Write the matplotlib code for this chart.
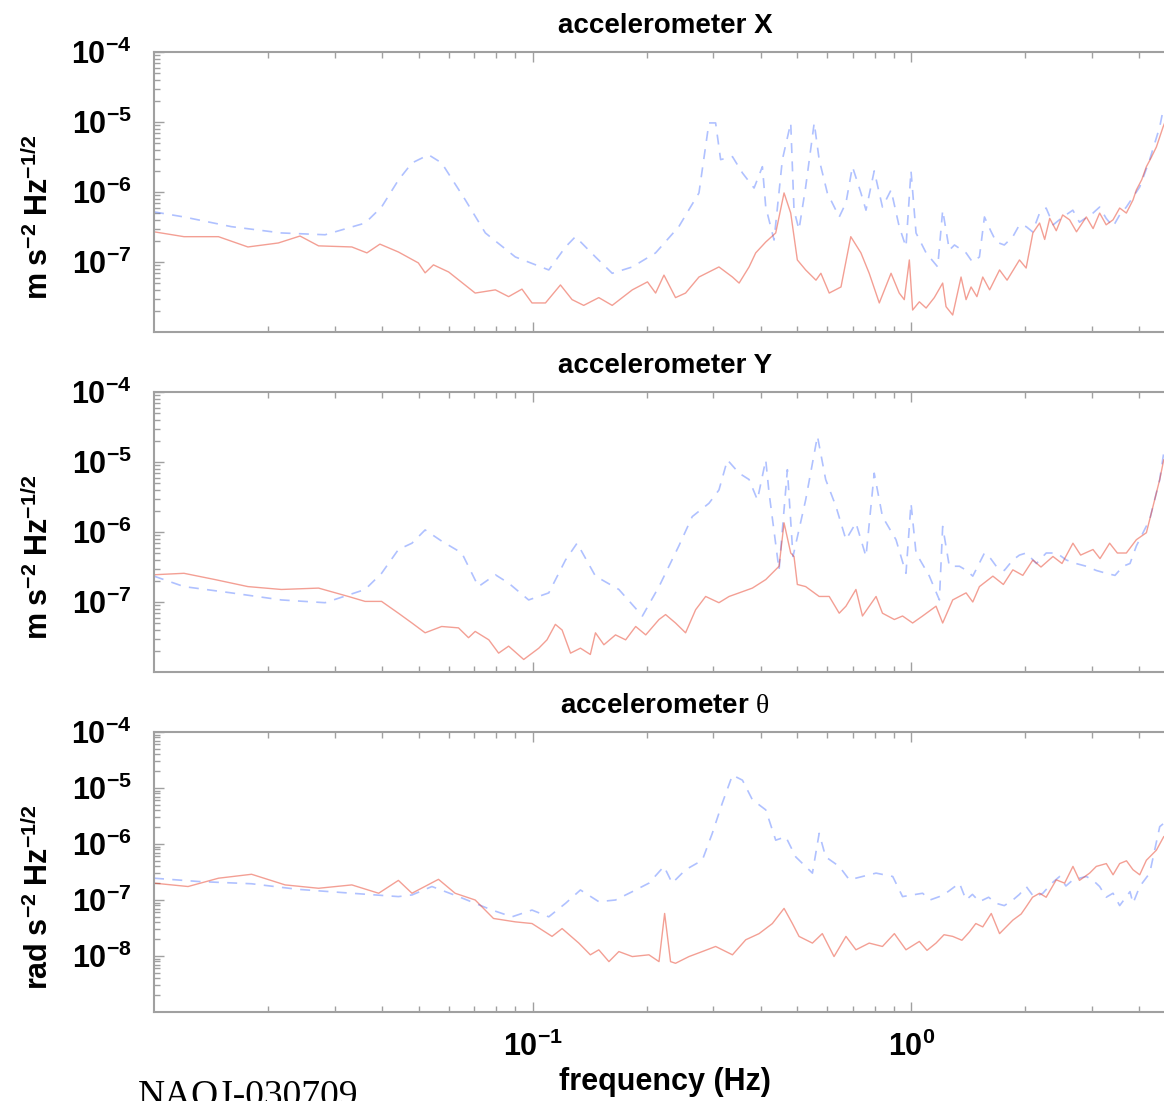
import math
import matplotlib
matplotlib.use('Agg')
import matplotlib.pyplot as plt
from matplotlib.ticker import LogLocator, NullFormatter, FixedLocator

plt.rcParams['font.family'] = ['Liberation Sans', 'DejaVu Sans']
plt.rcParams['mathtext.fontset'] = 'custom'
plt.rcParams['mathtext.rm'] = 'Liberation Serif'
plt.rcParams['mathtext.bf'] = 'Liberation Sans:bold'
plt.rcParams['mathtext.it'] = 'Liberation Serif:italic'
plt.rcParams['mathtext.sf'] = 'Liberation Sans'

# ---------------- data ----------------
# accelerometer X
x_red_f = [0.0100, 0.0120, 0.0148, 0.0177, 0.0213, 0.0243, 0.0272, 0.0333, 0.0365, 0.0395,
           0.0442, 0.0499, 0.0520, 0.0547, 0.0600, 0.0705, 0.0797, 0.0864, 0.0937, 0.0996,
           0.1081, 0.1184, 0.1271, 0.1364, 0.1495, 0.1622, 0.1833, 0.2010, 0.2112, 0.2222,
           0.2384, 0.2534, 0.2749, 0.3104, 0.3370, 0.3509, 0.3728, 0.3882, 0.4126, 0.4384,
           0.4612, 0.4803, 0.500, 0.526, 0.560, 0.577, 0.607, 0.652, 0.692, 0.736,
           0.774, 0.823, 0.884, 0.929, 0.958, 0.988, 1.008, 1.05, 1.094, 1.15,
           1.21, 1.235, 1.286, 1.353, 1.395, 1.438, 1.49, 1.544, 1.61, 1.71,
           1.79, 1.93, 2.01, 2.094, 2.181, 2.25, 2.32, 2.414, 2.51, 2.618,
           2.73, 2.898, 3.02, 3.143, 3.27, 3.409, 3.55, 3.697, 3.85, 3.929,
           4.06, 4.176, 4.30, 4.438, 4.622, 4.82]
x_red_v = [2.7e-7, 2.3e-7, 2.3e-7, 1.64e-7, 1.87e-7, 2.35e-7, 1.7e-7, 1.64e-7, 1.35e-7, 1.8e-7,
           1.39e-7, 9.7e-8, 7.0e-8, 9.1e-8, 7.2e-8, 3.6e-8, 4.0e-8, 3.2e-8, 4.1e-8, 2.6e-8,
           2.6e-8, 4.7e-8, 2.9e-8, 2.4e-8, 3.1e-8, 2.4e-8, 4.0e-8, 5.2e-8, 3.6e-8, 6.5e-8,
           3.1e-8, 3.6e-8, 6.1e-8, 8.5e-8, 6.1e-8, 5.0e-8, 8.5e-8, 1.35e-7, 1.93e-7, 2.6e-7,
           9.7e-7, 5.0e-7, 1.07e-7, 7.7e-8, 5.5e-8, 6.9e-8, 3.6e-8, 4.4e-8, 2.3e-7, 1.35e-7,
           6.9e-8, 2.6e-8, 6.9e-8, 3.6e-8, 2.9e-8, 1.07e-7, 2.06e-8, 2.7e-8, 2.2e-8, 3.1e-8,
           5.0e-8, 2.3e-8, 1.75e-8, 6.1e-8, 2.9e-8, 4.4e-8, 3.2e-8, 6.1e-8, 4.0e-8, 7.7e-8,
           5.5e-8, 1.07e-7, 8.2e-8, 2.6e-7, 3.6e-7, 2.1e-7, 4.2e-7, 2.8e-7, 4.7e-7, 4.0e-7,
           2.7e-7, 4.4e-7, 3.0e-7, 5.0e-7, 3.4e-7, 4.0e-7, 5.9e-7, 5.0e-7, 7.7e-7, 1.07e-6,
           1.5e-6, 2.3e-6, 3.1e-6, 4.4e-6, 8.5e-6, 1.5e-5]
x_blue_f = [0.0100, 0.0120, 0.0160, 0.0217, 0.0283, 0.0361, 0.0399, 0.0442, 0.0480, 0.0531,
            0.0575, 0.0664, 0.0750, 0.0900, 0.1103, 0.1221, 0.1297, 0.1465, 0.1622, 0.1833,
            0.2112, 0.2432, 0.2749, 0.2921, 0.3042, 0.3136, 0.3370, 0.3581, 0.3843, 0.4043,
            0.4126, 0.4340, 0.4565, 0.4803, 0.490, 0.505, 0.526, 0.554, 0.571, 0.600,
            0.645, 0.672, 0.699, 0.736, 0.759, 0.798, 0.839, 0.884, 0.929, 0.968,
            0.998, 1.029, 1.094, 1.174, 1.210, 1.260, 1.30, 1.395, 1.45, 1.513,
            1.560, 1.62, 1.676, 1.76, 1.854, 1.93, 2.011, 2.09, 2.181, 2.27,
            2.37, 2.514, 2.67, 2.78, 3.018, 3.143, 3.27, 3.409, 3.55, 3.697,
            4.010, 4.261, 4.529, 4.64]
x_blue_v = [5.2e-7, 4.4e-7, 3.2e-7, 2.6e-7, 2.45e-7, 3.6e-7, 6.1e-7, 1.48e-6, 2.6e-6, 3.4e-6,
            2.6e-6, 7.7e-7, 2.6e-7, 1.18e-7, 7.7e-8, 1.64e-7, 2.3e-7, 1.18e-7, 6.9e-8, 8.5e-8,
            1.35e-7, 3.2e-7, 9.7e-7, 9.7e-6, 9.7e-6, 2.9e-6, 3.2e-6, 1.87e-6, 1.14e-6, 2.3e-6,
            6.1e-7, 2.06e-7, 2.9e-6, 9.7e-6, 5.5e-7, 2.9e-7, 1.18e-6, 9.7e-6, 2.9e-6, 9.7e-7,
            4.4e-7, 7.0e-7, 2.3e-6, 9.7e-7, 5.5e-7, 2.0e-6, 6.1e-7, 1.07e-6, 3.2e-7, 1.64e-7,
            2.0e-6, 2.6e-7, 1.35e-7, 8.5e-8, 5.5e-7, 1.48e-7, 1.75e-7, 1.35e-7, 1.0e-7, 1.18e-7,
            4.4e-7, 2.8e-7, 1.93e-7, 1.75e-7, 2.3e-7, 3.4e-7, 3.2e-7, 2.7e-7, 5.0e-7, 5.9e-7,
            3.4e-7, 4.4e-7, 5.5e-7, 3.7e-7, 5.0e-7, 6.1e-7, 4.2e-7, 3.2e-7, 4.7e-7, 6.1e-7,
            1.18e-6, 2.9e-6, 8.5e-6, 1.64e-5]

# accelerometer Y
y_red_f = [0.0100, 0.0120, 0.0145, 0.0177, 0.0217, 0.0272, 0.0326, 0.0361, 0.0399, 0.0442,
           0.0480, 0.0520, 0.0575, 0.0637, 0.0677, 0.0705, 0.0766, 0.0813, 0.0864, 0.0947,
           0.1038, 0.1091, 0.1148, 0.1196, 0.1259, 0.1337, 0.1420, 0.1465, 0.1542, 0.1655,
           0.1760, 0.1871, 0.1989, 0.2156, 0.2244, 0.2384, 0.2534, 0.2694, 0.2863, 0.3104,
           0.3302, 0.3509, 0.3804, 0.4126, 0.4474, 0.4612, 0.4803, 0.490, 0.500, 0.526,
           0.571, 0.607, 0.645, 0.672, 0.714, 0.743, 0.807, 0.839, 0.902, 0.948,
           1.008, 1.071, 1.162, 1.210, 1.286, 1.395, 1.453, 1.513, 1.642, 1.75,
           1.854, 1.97, 2.094, 2.20, 2.366, 2.50, 2.672, 2.80, 3.018, 3.15,
           3.340, 3.50, 3.697, 3.929, 4.176, 4.349, 4.529, 4.64]
y_red_v = [2.45e-7, 2.57e-7, 2.09e-7, 1.66e-7, 1.51e-7, 1.58e-7, 1.20e-7, 1.02e-7, 1.02e-7, 6.92e-8,
           5.01e-8, 3.63e-8, 4.47e-8, 4.27e-8, 3.09e-8, 3.80e-8, 2.88e-8, 1.86e-8, 2.34e-8, 1.51e-8,
           2.19e-8, 2.88e-8, 4.79e-8, 3.98e-8, 1.86e-8, 2.19e-8, 1.78e-8, 3.63e-8, 2.45e-8, 3.39e-8,
           2.88e-8, 4.47e-8, 3.39e-8, 5.62e-8, 6.61e-8, 5.01e-8, 3.63e-8, 7.76e-8, 1.20e-7, 9.77e-8,
           1.20e-7, 1.35e-7, 1.58e-7, 2.09e-7, 3.24e-7, 1.35e-6, 5.01e-7, 4.47e-7, 1.78e-7, 1.66e-7,
           1.20e-7, 1.20e-7, 6.92e-8, 8.71e-8, 1.51e-7, 6.31e-8, 1.20e-7, 6.92e-8, 5.62e-8, 6.31e-8,
           5.01e-8, 6.31e-8, 8.71e-8, 5.01e-8, 1.07e-7, 1.35e-7, 1.00e-7, 1.66e-7, 2.34e-7, 1.78e-7,
           2.88e-7, 2.40e-7, 3.98e-7, 3.16e-7, 4.47e-7, 3.55e-7, 6.92e-7, 4.68e-7, 5.62e-7, 4.17e-7,
           6.92e-7, 5.01e-7, 5.01e-7, 7.76e-7, 9.77e-7, 2.34e-6, 5.62e-6, 1.07e-5]
y_blue_f = [0.0100, 0.0120, 0.0160, 0.0217, 0.0283, 0.0361, 0.0399, 0.0442, 0.0480, 0.0520,
            0.0575, 0.0650, 0.0719, 0.0797, 0.0864, 0.0976, 0.1103, 0.1221, 0.1310, 0.1465,
            0.1689, 0.1949, 0.2156, 0.2432, 0.2639, 0.2921, 0.3104, 0.3268, 0.3509, 0.3728,
            0.3922, 0.4126, 0.4210, 0.4474, 0.4706, 0.487, 0.526, 0.565, 0.594, 0.632,
            0.672, 0.714, 0.759, 0.798, 0.839, 0.911, 0.968, 0.998, 1.029, 1.116,
            1.186, 1.210, 1.260, 1.340, 1.40, 1.453, 1.560, 1.62, 1.676, 1.76,
            1.854, 1.93, 2.011, 2.14, 2.271, 2.42, 2.566, 2.72, 2.898, 3.08,
            3.273, 3.45, 3.623, 3.78, 3.929, 4.261, 4.529, 4.64]
y_blue_v = [2.34e-7, 1.66e-7, 1.35e-7, 1.07e-7, 9.77e-8, 1.51e-7, 2.57e-7, 5.62e-7, 6.92e-7, 1.07e-6,
            7.41e-7, 5.01e-7, 1.66e-7, 2.45e-7, 1.86e-7, 1.07e-7, 1.35e-7, 3.98e-7, 6.92e-7, 2.34e-7,
            1.51e-7, 6.31e-8, 1.66e-7, 6.31e-7, 1.66e-6, 2.57e-6, 3.98e-6, 1.07e-5, 6.92e-6, 5.62e-6,
            2.88e-6, 1.07e-5, 3.63e-6, 2.88e-7, 7.76e-6, 4.47e-7, 2.88e-6, 2.34e-5, 5.62e-6, 2.34e-6,
            7.76e-7, 1.35e-6, 4.47e-7, 6.92e-6, 1.66e-6, 7.76e-7, 2.57e-7, 2.57e-6, 5.01e-7, 2.34e-7,
            1.07e-7, 1.20e-6, 3.24e-7, 3.24e-7, 2.82e-7, 2.34e-7, 5.01e-7, 4.17e-7, 3.24e-7, 2.82e-7,
            3.98e-7, 4.68e-7, 5.01e-7, 3.55e-7, 5.01e-7, 5.01e-7, 3.98e-7, 3.55e-7, 3.24e-7, 2.82e-7,
            2.57e-7, 2.40e-7, 3.24e-7, 3.55e-7, 6.31e-7, 1.51e-6, 5.62e-6, 1.35e-5]

# accelerometer theta
t_red_f = [0.0100, 0.0123, 0.0148, 0.0181, 0.0222, 0.0272, 0.0333, 0.0392, 0.0442, 0.0480,
           0.0564, 0.0624, 0.0705, 0.0788, 0.0900, 0.0996, 0.1125, 0.1196, 0.1324, 0.1420,
           0.1495, 0.1590, 0.1689, 0.1833, 0.2028, 0.2156, 0.2231, 0.2313, 0.2384, 0.2587,
           0.2805, 0.3042, 0.3370, 0.3654, 0.3962, 0.4296, 0.4612, 0.4852, 0.5052, 0.548,
           0.582, 0.625, 0.672, 0.714, 0.774, 0.839, 0.902, 0.968, 1.050, 1.10,
           1.162, 1.22, 1.286, 1.36, 1.424, 1.48, 1.544, 1.626, 1.710, 1.854,
           1.95, 2.011, 2.09, 2.181, 2.27, 2.414, 2.54, 2.672, 2.78, 2.957,
           3.08, 3.273, 3.41, 3.550, 3.70, 3.850, 4.01, 4.176, 4.438, 4.64]
t_red_v = [2.00e-7, 1.74e-7, 2.45e-7, 2.88e-7, 1.86e-7, 1.62e-7, 1.86e-7, 1.32e-7, 2.24e-7, 1.32e-7,
           2.34e-7, 1.32e-7, 1.00e-7, 4.68e-8, 4.07e-8, 3.80e-8, 2.24e-8, 3.09e-8, 1.70e-8, 1.05e-8,
           1.29e-8, 7.94e-9, 1.20e-8, 9.77e-9, 1.05e-8, 7.94e-9, 5.75e-8, 7.94e-9, 7.41e-9, 9.77e-9,
           1.20e-8, 1.48e-8, 1.05e-8, 1.95e-8, 2.51e-8, 3.80e-8, 7.08e-8, 3.80e-8, 2.24e-8, 1.70e-8,
           2.51e-8, 9.77e-9, 2.24e-8, 1.29e-8, 1.70e-8, 1.48e-8, 2.51e-8, 1.29e-8, 1.82e-8, 1.26e-8,
           1.70e-8, 2.40e-8, 2.24e-8, 1.91e-8, 2.69e-8, 3.80e-8, 3.31e-8, 5.75e-8, 2.51e-8, 4.37e-8,
           5.62e-8, 7.59e-8, 1.12e-7, 1.32e-7, 1.12e-7, 2.29e-7, 2.00e-7, 3.98e-7, 2.24e-7, 3.02e-7,
           3.98e-7, 4.47e-7, 2.82e-7, 4.47e-7, 5.01e-7, 3.47e-7, 2.82e-7, 5.13e-7, 7.76e-7, 1.35e-6]
t_blue_f = [0.0100, 0.0131, 0.0181, 0.0240, 0.0333, 0.0442, 0.0480, 0.0542, 0.0637, 0.0781,
            0.0882, 0.0996, 0.1103, 0.1221, 0.1337, 0.1495, 0.1655, 0.1833, 0.2028, 0.2222,
            0.2336, 0.2534, 0.2805, 0.2981, 0.3168, 0.3370, 0.3581, 0.3804, 0.4126, 0.4384,
            0.4659, 0.4951, 0.548, 0.571, 0.594, 0.645, 0.686, 0.743, 0.807, 0.893,
            0.948, 1.071, 1.12, 1.186, 1.25, 1.340, 1.395, 1.45, 1.513, 1.60,
            1.676, 1.76, 1.854, 1.93, 2.011, 2.11, 2.225, 2.35, 2.464, 2.56,
            2.672, 2.898, 3.02, 3.143, 3.27, 3.409, 3.55, 3.697, 3.78, 3.850,
            4.010, 4.261, 4.529, 4.64]
t_blue_v = [2.45e-7, 2.14e-7, 1.95e-7, 1.55e-7, 1.32e-7, 1.15e-7, 1.23e-7, 1.74e-7, 1.15e-7, 6.61e-8,
            5.01e-8, 6.61e-8, 5.01e-8, 8.71e-8, 1.51e-7, 9.33e-8, 1.00e-7, 1.41e-7, 2.00e-7, 3.98e-7,
            2.00e-7, 3.47e-7, 5.13e-7, 1.55e-6, 5.37e-6, 1.70e-5, 1.38e-5, 6.17e-6, 4.07e-6, 1.17e-6,
            1.35e-6, 5.89e-7, 3.02e-7, 1.55e-6, 5.89e-7, 3.98e-7, 2.29e-7, 2.63e-7, 3.02e-7, 2.63e-7,
            1.15e-7, 1.32e-7, 1.00e-7, 1.15e-7, 1.41e-7, 2.00e-7, 1.00e-7, 1.26e-7, 9.33e-8, 1.12e-7,
            8.71e-8, 7.94e-8, 1.00e-7, 1.26e-7, 1.74e-7, 1.12e-7, 1.32e-7, 2.00e-7, 2.63e-7, 1.78e-7,
            2.29e-7, 2.63e-7, 2.24e-7, 1.74e-7, 1.12e-7, 1.32e-7, 7.94e-8, 1.15e-7, 1.41e-7, 8.71e-8,
            1.74e-7, 3.02e-7, 2.04e-6, 2.34e-6]

titles = ['accelerometer X', 'accelerometer Y', r'accelerometer $\mathrm{\theta}$']
ylabels = [r'$\mathbf{m\ s^{-2}\ Hz^{-1/2}}$', r'$\mathbf{m\ s^{-2}\ Hz^{-1/2}}$',
           r'$\mathbf{rad\ s^{-2}\ Hz^{-1/2}}$']
ylims = [(1e-8, 1e-4), (1e-8, 1e-4), (1e-9, 1e-4)]
ytick_exps = [[-7, -6, -5, -4], [-7, -6, -5, -4], [-8, -7, -6, -5, -4]]
panels = [(x_red_f, x_red_v, x_blue_f, x_blue_v),
          (y_red_f, y_red_v, y_blue_f, y_blue_v),
          (t_red_f, t_red_v, t_blue_f, t_blue_v)]

W, H = 1164, 1101
fig = plt.figure(figsize=(W / 100, H / 100), dpi=100)

# axes run a little past the right edge, the reference is cropped there
left_px, right_px = 154, 1176
tops = [52, 392, 732]
spine_col = '#a0a0a0'

for i, (rf, rv, bf, bv) in enumerate(panels):
    top = tops[i]
    ax = fig.add_axes([left_px / W, 1 - (top + 280) / H, (right_px - left_px) / W, 280 / H])
    ax.plot(bf, bv, color='#2f5cff', alpha=0.38, lw=1.2, dashes=(6, 5))
    ax.plot(rf, rv, color='#e8402a', alpha=0.5, lw=1.0)
    ax.set_xscale('log')
    ax.set_yscale('log')
    ax.set_xlim(0.01, 5.0)
    ax.set_ylim(*ylims[i])

    exps = ytick_exps[i]
    ax.yaxis.set_major_locator(FixedLocator([10.0 ** e for e in exps]))
    ax.set_yticklabels([r'$\mathbf{10^{%d}}$' % e for e in exps])
    ax.yaxis.set_minor_locator(LogLocator(base=10, subs=range(2, 10), numticks=20))
    ax.yaxis.set_minor_formatter(NullFormatter())
    ax.xaxis.set_major_locator(FixedLocator([0.1, 1.0]))
    ax.xaxis.set_minor_locator(LogLocator(base=10, subs=range(2, 10), numticks=20))
    ax.xaxis.set_minor_formatter(NullFormatter())
    if i == 2:
        ax.set_xticklabels([r'$\mathbf{10^{-1}}$', r'$\mathbf{10^{0}}$'])
    else:
        ax.set_xticklabels([])

    for s in ax.spines.values():
        s.set_color(spine_col)
        s.set_linewidth(1.5)
    ax.tick_params(which='both', direction='in', top=True, bottom=True, left=True,
                   right=False, color=spine_col, width=1.0)
    ax.tick_params(which='major', length=7)
    ax.tick_params(which='minor', length=4)
    ax.tick_params(axis='y', which='major', labelsize=22, pad=16)
    ax.tick_params(axis='x', which='major', labelsize=22, pad=14)

    ax.set_title(titles[i], fontsize=20, fontweight='bold', pad=14)
    ax.set_ylabel(ylabels[i], fontsize=22, va='center')
    ax.yaxis.set_label_coords(-0.113, 0.41)

    if i == 2:
        ax.set_xlabel('frequency (Hz)', fontsize=22, fontweight='bold', labelpad=3)

# stamp at the bottom, cut by the page edge as in the reference
fig.text(138 / W, 1 - 1106 / H, 'NAOJ-030709', fontsize=27, family='Liberation Serif',
         ha='left', va='baseline')

fig.savefig('out.png', dpi=100)
